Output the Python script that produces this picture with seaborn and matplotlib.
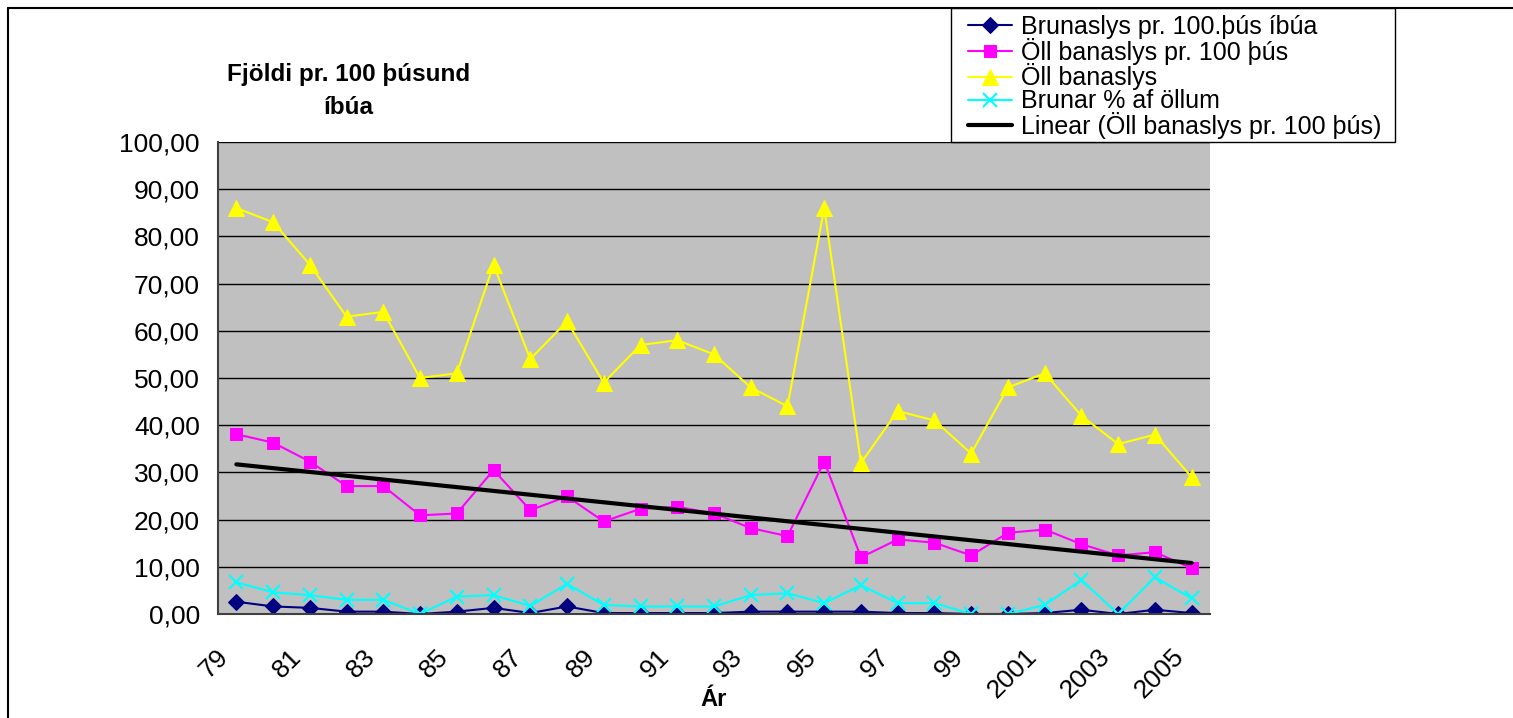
import numpy as np
import pandas as pd
import seaborn as sns
import matplotlib.pyplot as plt
from matplotlib.lines import Line2D
from matplotlib.patches import Rectangle
from matplotlib.ticker import FuncFormatter
from matplotlib.transforms import ScaledTranslation

years = ["79", "80", "81", "82", "83", "84", "85", "86", "87", "88", "89", "90", "91", "92",
         "93", "94", "95", "96", "97", "98", "99", "2000", "2001", "2002", "2003", "2004", "2005"]

# Brunaslys pr. 100.þús íbúa
brunaslys = [2.6, 1.6, 1.3, 0.5, 0.5, 0.0, 0.5, 1.3, 0.2, 1.6, 0.2, 0.2, 0.2, 0.2,
             0.5, 0.5, 0.5, 0.5, 0.2, 0.2, 0.0, 0.0, 0.2, 0.9, 0.0, 0.9, 0.2]
# Öll banaslys pr. 100 þús
oll_pr100 = [38.1, 36.3, 32.3, 27.1, 27.1, 20.9, 21.3, 30.5, 22.0, 24.9, 19.6, 22.3, 22.7, 21.3,
             18.2, 16.5, 32.3, 12.0, 15.8, 15.1, 12.4, 17.2, 17.9, 14.8, 12.4, 13.1, 9.7]
# Öll banaslys
oll = [86, 83, 74, 63, 64, 50, 51, 74, 54, 62, 49, 57, 58, 55,
       48, 44, 86, 32, 43, 41, 34, 48, 51, 42, 36, 38, 29]
# Brunar % af öllum
brunar_pct = [6.7, 4.6, 4.0, 3.0, 3.0, 0.0, 3.7, 4.0, 1.7, 6.4, 1.9, 1.6, 1.6, 1.6,
              4.0, 4.4, 2.3, 6.1, 2.3, 2.3, 0.0, 0.0, 1.9, 7.2, 0.0, 7.8, 3.3]

x = np.arange(len(years))
df = pd.DataFrame({"x": x, "brunaslys": brunaslys, "oll_pr100": oll_pr100,
                   "oll": oll, "brunar_pct": brunar_pct})

# linear trendline for Öll banaslys pr. 100 þús (like Excel)
coef = np.polyfit(x, oll_pr100, 1)
df["trend"] = np.polyval(coef, x)

sns.set_style("white")
plt.rcParams["font.family"] = ["Liberation Sans", "DejaVu Sans"]
plt.rcParams["text.color"] = "black"
plt.rcParams["xtick.labelcolor"] = "black"
plt.rcParams["ytick.labelcolor"] = "black"

fig = plt.figure(figsize=(15.13, 7.18), dpi=100)
ax = fig.add_axes([218 / 1513, 1 - 614 / 718, (1210 - 218) / 1513, (614 - 142) / 718])
ax.set_facecolor("#C0C0C0")

sns.lineplot(data=df, x="x", y="brunaslys", ax=ax, color="#000080", marker="D",
             markersize=8, markeredgecolor="#000080", linewidth=1.5,
             label="Brunaslys pr. 100.þús íbúa")
sns.lineplot(data=df, x="x", y="oll_pr100", ax=ax, color="#FF00FF", marker="s",
             markersize=9, markeredgecolor="#FF00FF", linewidth=1.5,
             label="Öll banaslys pr. 100 þús")
sns.lineplot(data=df, x="x", y="oll", ax=ax, color="#FFFF00", marker="^",
             markersize=12, markeredgecolor="#FFFF00", linewidth=1.5,
             label="Öll banaslys")
sns.lineplot(data=df, x="x", y="brunar_pct", ax=ax, color="#00FFFF", marker="x",
             markersize=10, markeredgecolor="#00FFFF", markeredgewidth=1.5, linewidth=1.5,
             label="Brunar % af öllum")
sns.lineplot(data=df, x="x", y="trend", ax=ax, color="black", linewidth=3,
             label="Linear (Öll banaslys pr. 100 þús)")

ax.set_xlim(-0.5, len(years) - 0.5)
ax.set_ylim(0, 100)
ax.set_yticks(np.arange(0, 101, 10))
ax.yaxis.set_major_formatter(FuncFormatter(lambda v, p: f"{v:.2f}".replace(".", ",")))
ax.grid(axis="y", color="black", linewidth=1)
ax.set_axisbelow(True)

ax.set_xticks(x[::2])
ax.set_xticklabels(years[::2], rotation=45, ha="right", va="center", rotation_mode="anchor")
ax.set_xticks(np.arange(-0.5, len(years), 1), minor=True)
ax.tick_params(axis="x", which="major", length=0, pad=28, labelsize=19, labelcolor="black")
ax.tick_params(axis="x", which="minor", length=7, color="#404040", width=1, direction="out")
ax.tick_params(axis="y", length=7, color="#404040", width=1, direction="out", labelsize=19,
               pad=6, labelcolor="black")
shift = ScaledTranslation(-12 / 100, 0, fig.dpi_scale_trans)
for lbl in ax.get_xticklabels():
    lbl.set_transform(lbl.get_transform() + shift)

for side in ["top", "right"]:
    ax.spines[side].set_visible(False)
for side in ["left", "bottom"]:
    ax.spines[side].set_color("#404040")
    ax.spines[side].set_linewidth(1.5)

ax.set_xlabel("")
ax.set_ylabel("")
fig.text(714 / 1513, 1 - 699 / 718, "Ár", ha="center", va="center",
         fontsize=17, fontweight="bold", color="black")

fig.text(349 / 1513, 1 - 91 / 718, "Fjöldi pr. 100 þúsund\níbúa", ha="center", va="center",
         fontsize=17.5, fontweight="bold", linespacing=1.6, color="black")

handles, labels = ax.get_legend_handles_labels()
ax.get_legend().remove()
leg = fig.legend(handles, labels, loc="upper left", bbox_to_anchor=(968 / 1513, 1 - 15 / 718),
                 borderaxespad=0, borderpad=0, frameon=False, labelcolor="black",
                 fontsize=18, handlelength=1.75, labelspacing=-0.05, handletextpad=0.35)

# legend box
fig.add_artist(Rectangle((951 / 1513, 1 - 142 / 718), (1395 - 951) / 1513, (142 - 8) / 718,
                         transform=fig.transFigure, fill=False, edgecolor="black", linewidth=1))

# outer chart border
fig.add_artist(Line2D([8 / 1513, 1], [1 - 8 / 718, 1 - 8 / 718], color="black", linewidth=1.5))
fig.add_artist(Line2D([8 / 1513, 8 / 1513], [0, 1 - 8 / 718], color="black", linewidth=1.5))

fig.savefig("out.png", dpi=100)
